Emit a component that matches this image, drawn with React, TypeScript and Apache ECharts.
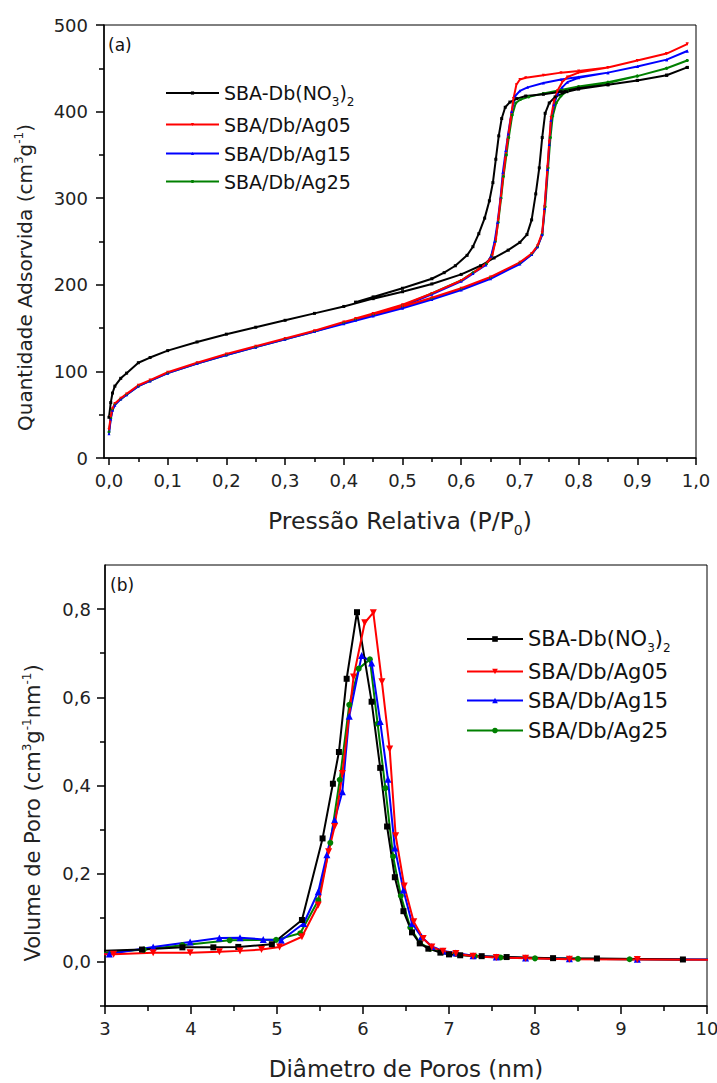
import React, { useEffect, useRef } from 'react';
import * as echarts from 'echarts';

const FONT = '"DejaVu Sans", sans-serif';

const SERIES_NAMES = ['SBA-Db(NO3)2', 'SBA/Db/Ag05', 'SBA/Db/Ag15', 'SBA/Db/Ag25'];
const SERIES_COLORS = ['#000000', '#ff0000', '#0000ff', '#008000'];
const SERIES_SYMBOLS = ['rect', 'triangle', 'triangle', 'circle'];
const SERIES_ROTATE = [0, 180, 0, 0];
const DRAW_ORDER = [3, 2, 0, 1];

// Tick labels
const PRESSURE_TICKS = [0, 0.1, 0.2, 0.3, 0.4, 0.5, 0.6, 0.7, 0.8, 0.9, 1.0];
const PRESSURE_MINOR = [0.05, 0.15, 0.25, 0.35, 0.45, 0.55, 0.65, 0.75, 0.85, 0.95];
const PORE_VOL_TICKS = [0, 0.2, 0.4, 0.6, 0.8];
const PORE_VOL_MINOR = [-0.1, 0.1, 0.3, 0.5, 0.7];

// (a) N2 isotherms [P/P0, cm3/g] — adsorption then desorption branch
const isoNO3Ads = [[0.0, 47], [0.003, 64], [0.006, 75], [0.01, 83], [0.02, 92], [0.03, 98], [0.05, 110], [0.07, 116], [0.1, 124], [0.15, 134], [0.2, 143], [0.25, 151], [0.3, 159], [0.35, 167], [0.4, 175], [0.45, 184], [0.5, 192], [0.55, 201], [0.6, 212], [0.633, 222], [0.656, 231], [0.68, 240], [0.7, 249], [0.712, 258], [0.72, 275], [0.727, 305], [0.733, 335], [0.738, 370], [0.743, 398], [0.75, 410], [0.76, 417], [0.78, 423], [0.8, 426], [0.85, 431], [0.9, 436], [0.95, 442], [0.985, 451]];
const isoNO3Des = [[0.985, 451], [0.95, 442], [0.9, 436], [0.85, 431], [0.8, 427], [0.77, 423], [0.74, 420], [0.71, 418], [0.695, 415], [0.683, 411], [0.675, 405], [0.669, 392], [0.664, 372], [0.659, 345], [0.654, 318], [0.648, 297], [0.64, 277], [0.63, 259], [0.62, 244], [0.61, 234], [0.59, 222], [0.571, 214], [0.55, 207], [0.5, 196], [0.45, 186], [0.42, 180]];

const isoAg05Ads = [[0.0, 33], [0.003, 48], [0.006, 57], [0.01, 63], [0.02, 69], [0.03, 74], [0.05, 84], [0.07, 90], [0.1, 99], [0.15, 110], [0.2, 120], [0.25, 129], [0.3, 138], [0.35, 147], [0.4, 157], [0.45, 166], [0.5, 175], [0.55, 185], [0.6, 196], [0.65, 209], [0.7, 226], [0.72, 236], [0.73, 245], [0.738, 260], [0.742, 290], [0.747, 336], [0.75, 365], [0.753, 393], [0.758, 412], [0.764, 424], [0.772, 434], [0.781, 440], [0.8, 445], [0.85, 451], [0.9, 459], [0.95, 467], [0.985, 478]];
const isoAg05Des = [[0.985, 478], [0.95, 467], [0.9, 459], [0.85, 451], [0.8, 447], [0.77, 445], [0.74, 442], [0.71, 439], [0.7, 437], [0.694, 431], [0.689, 415], [0.684, 390], [0.679, 367], [0.675, 345], [0.671, 322], [0.667, 298], [0.663, 275], [0.659, 252], [0.653, 234], [0.645, 226], [0.63, 218], [0.6, 205], [0.55, 190], [0.5, 177], [0.45, 167], [0.42, 161]];

const isoAg15Ads = [[0.0, 28], [0.003, 45], [0.006, 55], [0.01, 61], [0.02, 68], [0.03, 73], [0.05, 83], [0.07, 89], [0.1, 98], [0.15, 109], [0.2, 119], [0.25, 128], [0.3, 137], [0.35, 146], [0.4, 155], [0.45, 164], [0.5, 173], [0.55, 183], [0.6, 194], [0.65, 207], [0.7, 224], [0.72, 235], [0.73, 244], [0.738, 258], [0.742, 288], [0.747, 333], [0.75, 362], [0.753, 390], [0.758, 408], [0.764, 420], [0.772, 428], [0.781, 434], [0.8, 439], [0.85, 445], [0.9, 452], [0.95, 460], [0.985, 470]];
const isoAg15Des = [[0.985, 470], [0.95, 460], [0.9, 452], [0.85, 445], [0.8, 440], [0.77, 437], [0.74, 433], [0.713, 428], [0.7, 424], [0.692, 418], [0.686, 400], [0.68, 374], [0.676, 355], [0.671, 330], [0.667, 300], [0.662, 272], [0.657, 250], [0.651, 233], [0.642, 223], [0.62, 213], [0.6, 204], [0.55, 189], [0.5, 175], [0.45, 165], [0.42, 159]];

const isoAg25Ads = [[0.0, 30], [0.003, 46], [0.006, 56], [0.01, 62], [0.02, 68], [0.03, 73], [0.05, 83], [0.07, 89], [0.1, 98], [0.15, 109], [0.2, 119], [0.25, 128], [0.3, 137], [0.35, 146], [0.4, 156], [0.45, 165], [0.5, 174], [0.55, 184], [0.6, 195], [0.65, 208], [0.7, 225], [0.72, 235], [0.73, 244], [0.738, 258], [0.743, 290], [0.748, 335], [0.752, 370], [0.756, 395], [0.762, 410], [0.77, 418], [0.781, 424], [0.8, 428], [0.85, 433], [0.9, 441], [0.95, 450], [0.985, 459]];
const isoAg25Des = [[0.985, 459], [0.95, 450], [0.9, 441], [0.85, 434], [0.8, 429], [0.77, 425], [0.74, 421], [0.715, 417], [0.701, 414], [0.693, 410], [0.687, 396], [0.681, 370], [0.677, 350], [0.672, 325], [0.668, 300], [0.663, 272], [0.658, 250], [0.652, 234], [0.643, 224], [0.62, 214], [0.6, 205], [0.55, 190], [0.5, 176], [0.45, 166], [0.42, 160]];

// (b) pore size distribution [diameter nm, cm3 g-1 nm-1]
const psdNO3 = [[2.9, 0.025], [3.43, 0.028], [3.9, 0.033], [4.26, 0.033], [4.55, 0.034], [4.94, 0.04], [5.29, 0.095], [5.53, 0.28], [5.65, 0.404], [5.72, 0.476], [5.81, 0.642], [5.93, 0.793], [6.1, 0.59], [6.2, 0.44], [6.28, 0.307], [6.37, 0.192], [6.47, 0.115], [6.57, 0.067], [6.66, 0.042], [6.76, 0.03], [6.9, 0.021], [7.0, 0.017], [7.13, 0.015], [7.38, 0.013], [7.67, 0.011], [8.21, 0.0085], [8.72, 0.0077], [9.72, 0.0055]];
const psdAg05 = [[2.85, 0.017], [3.1, 0.0175], [3.56, 0.021], [3.99, 0.021], [4.33, 0.023], [4.57, 0.025], [4.82, 0.028], [5.03, 0.034], [5.29, 0.057], [5.48, 0.129], [5.6, 0.25], [5.67, 0.307], [5.76, 0.427], [5.89, 0.646], [6.02, 0.769], [6.12, 0.792], [6.22, 0.635], [6.31, 0.483], [6.38, 0.286], [6.48, 0.172], [6.59, 0.091], [6.7, 0.053], [6.8, 0.034], [6.93, 0.024], [7.08, 0.019], [7.28, 0.013], [7.55, 0.01], [7.89, 0.0085], [8.4, 0.006], [9.19, 0.0055], [10.3, 0.005]];
const psdAg15 = [[2.85, 0.017], [3.05, 0.018], [3.56, 0.034], [3.99, 0.045], [4.33, 0.054], [4.57, 0.055], [4.84, 0.051], [5.05, 0.049], [5.31, 0.087], [5.48, 0.159], [5.58, 0.243], [5.67, 0.322], [5.76, 0.386], [5.84, 0.557], [5.985, 0.695], [6.1, 0.678], [6.2, 0.545], [6.29, 0.414], [6.37, 0.258], [6.47, 0.163], [6.57, 0.087], [6.68, 0.057], [6.8, 0.035], [6.93, 0.025], [7.08, 0.02], [7.28, 0.014], [7.55, 0.011], [7.89, 0.009], [8.4, 0.007], [9.19, 0.006], [10.3, 0.005]];
const psdAg25 = [[2.85, 0.018], [3.45, 0.028], [3.9, 0.038], [4.45, 0.049], [4.99, 0.05], [5.27, 0.065], [5.48, 0.14], [5.62, 0.27], [5.73, 0.413], [5.84, 0.583], [5.95, 0.665], [6.08, 0.686], [6.17, 0.54], [6.26, 0.394], [6.35, 0.239], [6.44, 0.15], [6.55, 0.078], [6.66, 0.043], [6.78, 0.03], [6.92, 0.022], [7.08, 0.018], [7.3, 0.013], [7.6, 0.01], [8.0, 0.008], [8.5, 0.007], [9.1, 0.006], [10.3, 0.005]];

const ISOTHERMS = [
  isoNO3Ads.concat(isoNO3Des),
  isoAg05Ads.concat(isoAg05Des),
  isoAg15Ads.concat(isoAg15Des),
  isoAg25Ads.concat(isoAg25Des),
];
const PSD = [psdNO3, psdAg05, psdAg15, psdAg25];

const fmtComma = (v: number) => v.toFixed(1).replace('.', ',');

const legendFmt = (name: string) =>
  name === 'SBA-Db(NO3)2' ? '{m|SBA-Db(NO}{sub|3}{m|)}{sub|2}' : '{m|' + name + '}';

const axisLineStyle = { color: '#000', width: 1.5 };
const tickLabel = { fontFamily: FONT, fontSize: 18, color: '#222' };
const subStyle = { fontFamily: FONT, fontSize: 14, color: '#222', lineHeight: 24, padding: [18, 0, 0, 0] };
const supStyle = { fontFamily: FONT, fontSize: 12, color: '#222', lineHeight: 24, padding: [0, 0, 13, 0] };

function makeLegends(rows: number[], left: number, itemWidth: number, itemHeight: number, fontSize: number) {
  return SERIES_NAMES.map((n, i) => ({
    data: [n],
    orient: 'vertical',
    left,
    top: rows[i] - 12,
    padding: 0,
    itemWidth,
    itemHeight,
    selectedMode: false,
    formatter: legendFmt,
    textStyle: {
      fontFamily: FONT,
      fontSize,
      color: '#111',
      rich: {
        m: { fontFamily: FONT, fontSize, color: '#111', lineHeight: 24 },
        sub: { fontFamily: FONT, fontSize: 12, color: '#111', lineHeight: 24, padding: [18, 0, 0, 0] },
      },
    },
  }));
}

function buildTop() {
  return {
    animation: false,
    textStyle: { fontFamily: FONT },
    grid: { left: 104, right: 21, top: 25, bottom: 87, show: true, borderColor: '#000', borderWidth: 1, outerBoundsMode: 'none' },
    graphic: [{ type: 'text', left: 108, top: 36, style: { text: '(a)', font: '17px "DejaVu Sans"', fill: '#111' } }],
    legend: makeLegends([90, 127, 156, 184], 165, 53, 4, 19),
    xAxis: [
      {
        type: 'value', min: -0.0085, max: 1.0,
        axisLine: { show: true, onZero: false, lineStyle: axisLineStyle },
        axisTick: { show: true, customValues: PRESSURE_TICKS, length: 7, lineStyle: axisLineStyle },
        axisLabel: { customValues: PRESSURE_TICKS, formatter: fmtComma, margin: 13, ...tickLabel },
        splitLine: { show: false },
        name: 'Pressão Relativa (P/P{sub|0})',
        nameLocation: 'middle', nameGap: 51,
        nameTextStyle: { fontFamily: FONT, fontSize: 23.5, color: '#222', lineHeight: 24, rich: { sub: subStyle } },
      },
      {
        type: 'value', min: -0.0085, max: 1.0, position: 'bottom',
        axisLine: { show: false, onZero: false },
        axisTick: { show: true, customValues: PRESSURE_MINOR, length: 4, lineStyle: axisLineStyle },
        axisLabel: { show: false },
        splitLine: { show: false },
      },
    ],
    yAxis: {
      type: 'value', min: 0, max: 500, interval: 100,
      axisLine: { show: true, onZero: false, lineStyle: axisLineStyle },
      axisTick: { show: true, length: 8, lineStyle: axisLineStyle },
      minorTick: { show: true, splitNumber: 2, length: 5, lineStyle: axisLineStyle },
      axisLabel: { margin: 16, ...tickLabel },
      splitLine: { show: false },
      minorSplitLine: { show: false },
      name: 'Quantidade Adsorvida (cm{sup|3}g{sup|-1})',
      nameLocation: 'middle', nameGap: 67,
      nameTextStyle: { fontFamily: FONT, fontSize: 20, color: '#222', lineHeight: 24, padding: [0, 72, 0, 0], rich: { sup: supStyle } },
    },
    series: DRAW_ORDER.map((i) => ({
      name: SERIES_NAMES[i],
      type: 'line',
      xAxisIndex: 0,
      yAxisIndex: 0,
      data: ISOTHERMS[i],
      symbol: SERIES_SYMBOLS[i],
      symbolRotate: SERIES_ROTATE[i],
      symbolSize: 3,
      showSymbol: true,
      color: SERIES_COLORS[i],
      lineStyle: { width: 2, color: SERIES_COLORS[i] },
      itemStyle: { color: SERIES_COLORS[i] },
    })),
  };
}

function buildBottom() {
  return {
    animation: false,
    textStyle: { fontFamily: FONT },
    grid: { left: 105, right: 10, top: 20, bottom: 77, show: true, borderColor: '#000', borderWidth: 1, outerBoundsMode: 'none' },
    graphic: [{ type: 'text', left: 110, top: 31, style: { text: '(b)', font: '17px "DejaVu Sans"', fill: '#111' } }],
    legend: makeLegends([91, 128, 157, 187], 466, 56, 7, 21),
    xAxis: {
      type: 'value', min: 3, max: 10, interval: 1,
      axisLine: { show: true, onZero: false, lineStyle: axisLineStyle },
      axisTick: { show: true, length: 8, lineStyle: axisLineStyle },
      minorTick: { show: true, splitNumber: 2, length: 5, lineStyle: axisLineStyle },
      axisLabel: { margin: 13, ...tickLabel },
      splitLine: { show: false },
      minorSplitLine: { show: false },
      name: 'Diâmetro de Poros (nm)',
      nameLocation: 'middle', nameGap: 51,
      nameTextStyle: { fontFamily: FONT, fontSize: 23, color: '#222', lineHeight: 24 },
    },
    yAxis: [
      {
        type: 'value', min: -0.1, max: 0.9,
        axisLine: { show: true, onZero: false, lineStyle: axisLineStyle },
        axisTick: { show: true, customValues: PORE_VOL_TICKS, length: 8, lineStyle: axisLineStyle },
        axisLabel: { customValues: PORE_VOL_TICKS, formatter: fmtComma, margin: 14, ...tickLabel },
        splitLine: { show: false },
        name: 'Volume de Poro (cm{sup|3}g{sup|-1}nm{sup|-1})',
        nameLocation: 'middle', nameGap: 60,
        nameTextStyle: { fontFamily: FONT, fontSize: 21, color: '#222', lineHeight: 24, padding: [0, 55, 0, 0], rich: { sup: supStyle } },
      },
      {
        type: 'value', min: -0.1, max: 0.9, position: 'left',
        axisLine: { show: false, onZero: false },
        axisTick: { show: true, customValues: PORE_VOL_MINOR, length: 5, lineStyle: axisLineStyle },
        axisLabel: { show: false },
        splitLine: { show: false },
      },
    ],
    series: DRAW_ORDER.map((i) => ({
      name: SERIES_NAMES[i],
      type: 'line',
      xAxisIndex: 0,
      yAxisIndex: 0,
      data: PSD[i],
      symbol: SERIES_SYMBOLS[i],
      symbolRotate: SERIES_ROTATE[i],
      symbolSize: i === 0 ? 6 : i === 3 ? 6 : 7,
      showSymbol: true,
      color: SERIES_COLORS[i],
      lineStyle: { width: 2, color: SERIES_COLORS[i] },
      itemStyle: { color: SERIES_COLORS[i] },
    })),
  };
}

export default function App() {
  const topRef = useRef<HTMLDivElement>(null);
  const botRef = useRef<HTMLDivElement>(null);
  useEffect(() => {
    const c1 = echarts.init(topRef.current as HTMLDivElement, null, { renderer: 'svg' });
    c1.setOption(buildTop() as any);
    const c2 = echarts.init(botRef.current as HTMLDivElement, null, { renderer: 'svg' });
    c2.setOption(buildBottom() as any);
    return () => {
      c1.dispose();
      c2.dispose();
    };
  }, []);
  return (
    <div style={{ position: 'absolute', left: 0, top: 0, width: 717, height: 1083, background: '#fff' }}>
      <div ref={topRef} style={{ position: 'absolute', left: 0, top: 0, width: 717, height: 545 }} />
      <div ref={botRef} style={{ position: 'absolute', left: 0, top: 545, width: 717, height: 538 }} />
    </div>
  );
}
